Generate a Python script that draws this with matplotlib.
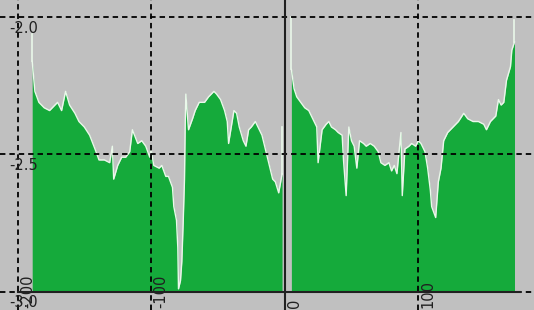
import matplotlib
matplotlib.use("Agg")
import matplotlib.pyplot as plt

# left block (x < 0)
left_x = [-189, -187, -184, -180, -176, -172, -170, -167, -164, -161, -157, -154,
          -150, -146, -142, -139, -135, -131, -129, -128, -125, -122, -119, -116,
          -114, -110, -107, -104, -101, -100, -98, -94, -92, -89, -87, -84, -83,
          -81, -80, -79.5, -78, -77, -76, -75, -74.5, -74, -72, -69, -67, -64,
          -60, -57, -53, -51, -48, -45, -43, -42, -40, -38, -36, -34, -31, -29,
          -27, -25, -22, -19, -17, -15, -13, -11, -9, -7, -4.5, -3, -2]
left_y = [-2.16, -2.27, -2.31, -2.33, -2.34, -2.32, -2.31, -2.34, -2.27, -2.32,
          -2.35, -2.38, -2.40, -2.43, -2.48, -2.52, -2.52, -2.53, -2.47, -2.59,
          -2.54, -2.51, -2.51, -2.49, -2.41, -2.46, -2.45, -2.47, -2.51, -2.48,
          -2.54, -2.55, -2.54, -2.58, -2.58, -2.62, -2.69, -2.74, -2.84, -2.99,
          -2.96, -2.89, -2.75, -2.59, -2.40, -2.28, -2.41, -2.37, -2.34, -2.31,
          -2.31, -2.29, -2.27, -2.28, -2.30, -2.34, -2.38, -2.46, -2.40, -2.34,
          -2.35, -2.40, -2.45, -2.47, -2.41, -2.40, -2.38, -2.41, -2.43, -2.47,
          -2.51, -2.55, -2.59, -2.60, -2.64, -2.60, -2.57]

# right block (x > 0)
right_x = [5, 7, 9, 12, 15, 18, 22, 24, 25, 28, 31, 33, 35, 38, 40, 43, 44, 46,
           48, 50, 52, 54, 56, 59, 61, 64, 67, 70, 72, 75, 78, 80, 82, 84, 87,
           88, 90, 93, 95, 98, 100, 102, 105, 107, 109, 110, 113, 115, 117, 119,
           122, 124, 126, 130, 134, 137, 141, 145, 149, 151, 154, 156, 158, 160,
           162, 164, 166, 169, 170, 172]
right_y = [-2.19, -2.26, -2.29, -2.31, -2.33, -2.34, -2.38, -2.40, -2.53, -2.41,
           -2.39, -2.38, -2.40, -2.41, -2.42, -2.43, -2.52, -2.65, -2.40, -2.45,
           -2.47, -2.55, -2.45, -2.46, -2.47, -2.46, -2.47, -2.49, -2.53, -2.54,
           -2.53, -2.56, -2.54, -2.57, -2.42, -2.65, -2.48, -2.47, -2.46, -2.47,
           -2.45, -2.46, -2.49, -2.55, -2.63, -2.69, -2.73, -2.60, -2.55, -2.45,
           -2.42, -2.41, -2.40, -2.38, -2.35, -2.37, -2.38, -2.38, -2.39, -2.41,
           -2.38, -2.37, -2.36, -2.30, -2.32, -2.31, -2.23, -2.18, -2.12, -2.09]

# thin white spikes sticking out above the fill
spike_x = [-189, -2, 5, 172]
spike_top = [-2.06, -2.40, -2.00, -2.01]

x_ticks = [-200, -100, 0, 100]
y_ticks = [-2.0, -2.5, -3.0]

GREEN = "#15aa3b"
EDGE = "#eaf8ea"

fig = plt.figure(figsize=(5.34, 3.10), dpi=100, facecolor="#c0c0c0")
ax = fig.add_axes([0, 0, 1, 1])
ax.set_facecolor("#c0c0c0")
ax.set_xlim(-213.1, 186.6)
ax.set_ylim(-3.067, -1.937)
ax.axis("off")

base = -3.0
for xs, ys in [(left_x, left_y), (right_x, right_y)]:
    ax.fill_between(xs, ys, base, color=GREEN, lw=0, zorder=2)
    ax.plot(xs, ys, color=EDGE, lw=1.0, zorder=3)

for sx, st in zip(spike_x, spike_top):
    lo = (left_y + right_y)[(left_x + right_x).index(sx)]
    ax.plot([sx, sx], [lo, st], color=EDGE, lw=1.2, zorder=3)

# dashed grid
dash = dict(color="black", lw=1.3, linestyle=(0, (3, 2.2)), zorder=4)
for xv in x_ticks:
    if xv != 0:
        ax.axvline(xv, **dash)
for yv in y_ticks:
    ax.axhline(yv, **dash)

# solid axis lines
ax.axvline(0, color="#202020", lw=1.5, zorder=5)
ax.plot([-200, 176], [base, base], color="#202020", lw=1.5, zorder=5)

for yv in y_ticks:
    ax.text(-184.5, yv - 0.012, f"{yv:.1f}", ha="right", va="top",
            fontsize=10.5, color="#202020", zorder=6)
for xv in x_ticks:
    ax.text(xv + 7.5, -3.058, f"{xv}", rotation=90, ha="center", va="bottom",
            fontsize=10.5, color="#202020", zorder=6)

fig.savefig("out.png", dpi=100, facecolor=fig.get_facecolor())
